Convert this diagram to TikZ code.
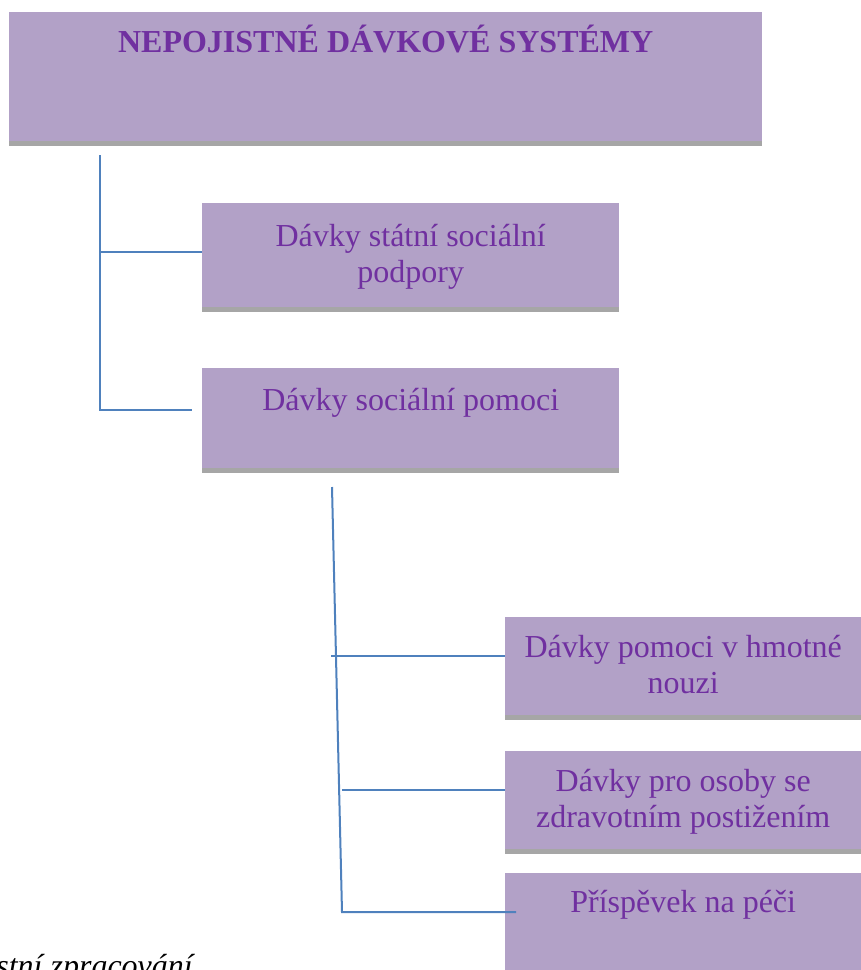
\documentclass[tikz,border=0pt]{standalone}
\usepackage{fontspec}
\setmainfont{Liberation Serif}
\usetikzlibrary{positioning}
\definecolor{boxfill}{HTML}{B2A1C7}
\definecolor{boxtext}{HTML}{7030A0}
\definecolor{boxshade}{HTML}{A6A6A6}
\definecolor{linkblue}{HTML}{4F81BD}
\tikzset{
  box/.style = {rectangle, fill=boxfill, inner sep=0pt, anchor=north west},% ramecek
  boxlbl/.style = {align=center, inner sep=0pt, text=boxtext, anchor=base,
    font=\fontsize{32}{36}\selectfont},% text v ramecku (base = posledni radek)
  link/.style = {draw=linkblue, line width=2pt}% spojnice
}

\begin{document}
\begin{tikzpicture}[x=1pt,y=-1pt]
\useasboundingbox (0,0) rectangle (861,970);
\clip (0,0) rectangle (861,970);
% ramecky
\node [box, minimum width=753pt, minimum height=129pt] (nds) at (9,12) {};
\node [box, minimum width=417pt, minimum height=104pt] (ssp) at (202,203) {};
\node [box, minimum width=417pt, minimum height=100pt] (sp) at (202,368) {};
\node [box, minimum width=356pt, minimum height=98pt] (hn) at (505,617) {};
\node [box, minimum width=356pt, minimum height=98pt] (zp) at (505,751) {};
\node [box, minimum width=356pt, minimum height=102pt] (pp) at (505,873) {};
\foreach \b in {nds,ssp,sp,hn,zp}
  \fill [boxshade] (\b.south west) rectangle ([yshift=-5pt]\b.south east);

% texty
\node [boxlbl, font=\fontsize{32}{36}\selectfont\bfseries] (nds-t) at ([yshift=-40pt]nds.north) {NEPOJISTNÉ DÁVKOVÉ SYSTÉMY};
\node [boxlbl] (ssp-t) at ([yshift=-79pt]ssp.north) {Dávky státní sociální\\podpory};
\node [boxlbl] (sp-t) at ([yshift=-42pt]sp.north) {Dávky sociální pomoci};
\node [boxlbl] (hn-t) at ([yshift=-76pt]hn.north) {Dávky pomoci v hmotné\\nouzi};
\node [boxlbl] (zp-t) at ([yshift=-76pt]zp.north) {Dávky pro osoby se\\zdravotním postižením};
\node [boxlbl] (pp-t) at ([yshift=-39pt]pp.north) {Příspěvek na péči};

% spojnice
\coordinate (t1) at (100,155);
\coordinate (b1) at (100,410);
\coordinate (e1) at (192,410);
\coordinate (j1) at (100,252);
\draw [link] (t1) -- (b1) -- (e1);
\draw [link] (j1) -- (j1 -| ssp.west);

\coordinate (t2) at (332,487);
\coordinate (b2) at (342,912);
\coordinate (e2) at (516,912);
\coordinate (j2) at (331,656);
\coordinate (j3) at (342,790);
\draw [link] (t2) -- (b2) -- (e2);
\draw [link] (j2) -- (j2 -| hn.west);
\draw [link] (j3) -- (j3 -| zp.west);

\node [inner sep=0pt, anchor=base east, font=\fontsize{32}{36}\selectfont\itshape] (src) at (193,976) {vlastní zpracování};
\end{tikzpicture}
\end{document}
